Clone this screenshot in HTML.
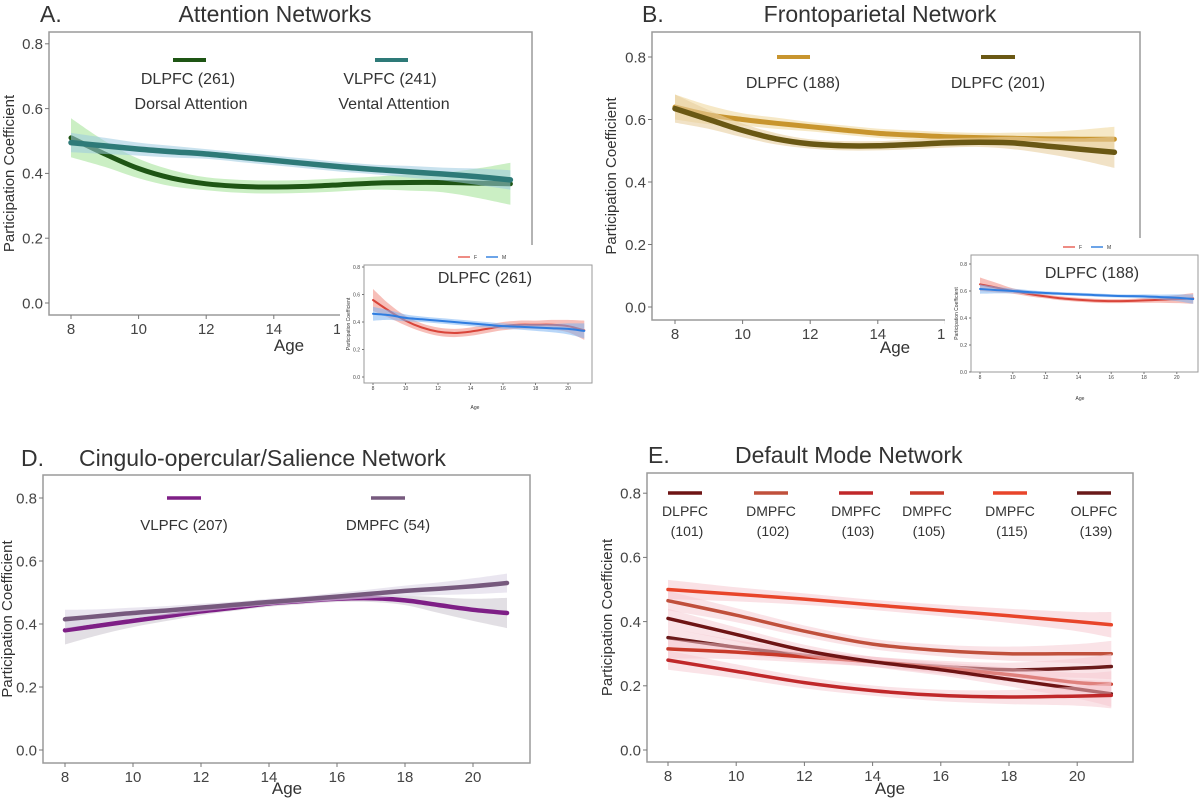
<!DOCTYPE html>
<html><head><meta charset="utf-8"><style>
html,body{margin:0;padding:0;background:#fff;}
svg{display:block;font-family:"Liberation Sans",sans-serif;}
</style></head><body>
<svg id="fig" width="1200" height="800" viewBox="0 0 1200 800"></svg>
<script>
// ---------- DATA ----------
const xTicks = [8, 10, 12, 14, 16, 18, 20];
const yTicks = [0, 0.2, 0.4, 0.6, 0.8];
const yTickLabels = ["0.0", "0.2", "0.4", "0.6", "0.8"];

// Panel A
const aAges = [8, 9, 10, 11, 12, 13, 14, 15, 16, 17, 18, 19, 20, 21];
const aDorsal = [0.51, 0.46, 0.415, 0.385, 0.368, 0.36, 0.358, 0.36, 0.365, 0.37, 0.372, 0.372, 0.37, 0.368];
const aDorsalCI = [0.06, 0.04, 0.03, 0.025, 0.02, 0.02, 0.02, 0.02, 0.02, 0.02, 0.025, 0.03, 0.045, 0.065];
const aVentral = [0.495, 0.485, 0.475, 0.467, 0.46, 0.45, 0.44, 0.43, 0.42, 0.412, 0.405, 0.398, 0.39, 0.38];
const aVentralCI = [0.03, 0.025, 0.02, 0.018, 0.015, 0.015, 0.015, 0.015, 0.015, 0.015, 0.018, 0.02, 0.025, 0.03];
// Inset A (by sex)
const aInF = [0.56, 0.48, 0.41, 0.36, 0.33, 0.32, 0.33, 0.35, 0.37, 0.38, 0.38, 0.38, 0.37, 0.34];
const aInFCI = [0.08, 0.05, 0.035, 0.03, 0.03, 0.03, 0.03, 0.03, 0.03, 0.03, 0.03, 0.035, 0.045, 0.07];
const aInM = [0.46, 0.45, 0.43, 0.42, 0.41, 0.4, 0.39, 0.38, 0.37, 0.365, 0.36, 0.355, 0.35, 0.335];
const aInMCI = [0.05, 0.035, 0.025, 0.02, 0.02, 0.02, 0.02, 0.02, 0.02, 0.02, 0.025, 0.03, 0.04, 0.055];

// Panel B
const bAges = [8, 9, 10, 11, 12, 13, 14, 15, 16, 17, 18, 19, 20, 21];
const bDL188 = [0.64, 0.615, 0.6, 0.588, 0.577, 0.566, 0.556, 0.55, 0.545, 0.542, 0.54, 0.538, 0.537, 0.537];
const bDL188CI = [0.04, 0.03, 0.02, 0.018, 0.015, 0.015, 0.015, 0.015, 0.015, 0.015, 0.018, 0.022, 0.03, 0.04];
const bDL201 = [0.635, 0.6, 0.565, 0.538, 0.522, 0.516, 0.516, 0.52, 0.525, 0.527, 0.525, 0.515, 0.505, 0.495];
const bDL201CI = [0.045, 0.03, 0.022, 0.018, 0.015, 0.015, 0.015, 0.015, 0.015, 0.015, 0.02, 0.025, 0.035, 0.05];
const bInF = [0.65, 0.625, 0.6, 0.578, 0.56, 0.545, 0.535, 0.528, 0.525, 0.526, 0.53, 0.535, 0.54, 0.545];
const bInFCI = [0.05, 0.035, 0.02, 0.018, 0.015, 0.015, 0.015, 0.015, 0.015, 0.015, 0.018, 0.022, 0.03, 0.04];
const bInM = [0.615, 0.607, 0.6, 0.592, 0.585, 0.58, 0.575, 0.57, 0.565, 0.562, 0.56, 0.555, 0.55, 0.54];
const bInMCI = [0.035, 0.025, 0.018, 0.015, 0.012, 0.012, 0.012, 0.012, 0.012, 0.012, 0.015, 0.018, 0.025, 0.035];

// Panel D
const dAges = [8, 9, 10, 11, 12, 13, 14, 15, 16, 17, 18, 19, 20, 21];
const dVL207 = [0.38, 0.395, 0.41, 0.425, 0.44, 0.452, 0.465, 0.473, 0.48, 0.482, 0.475, 0.46, 0.445, 0.435];
const dVL207CI = [0.045, 0.03, 0.02, 0.015, 0.012, 0.01, 0.01, 0.01, 0.01, 0.012, 0.015, 0.025, 0.035, 0.048];
const dDM54 = [0.415, 0.425, 0.435, 0.443, 0.452, 0.461, 0.47, 0.478, 0.487, 0.496, 0.505, 0.512, 0.52, 0.53];
const dDM54CI = [0.03, 0.022, 0.017, 0.014, 0.012, 0.01, 0.01, 0.01, 0.012, 0.014, 0.017, 0.02, 0.025, 0.03];

// Panel E
const eAges = [8, 10, 12, 14, 16, 18, 20, 21];
const eDL101 = [0.41, 0.36, 0.31, 0.275, 0.25, 0.22, 0.19, 0.175];
const eDM102 = [0.465, 0.42, 0.37, 0.33, 0.31, 0.3, 0.3, 0.3];
const eDM103 = [0.28, 0.245, 0.21, 0.185, 0.17, 0.165, 0.168, 0.17];
const eDM105 = [0.315, 0.305, 0.29, 0.275, 0.255, 0.235, 0.21, 0.205];
const eDM115 = [0.5, 0.485, 0.47, 0.452, 0.435, 0.418, 0.4, 0.39];
const eOL139 = [0.35, 0.32, 0.295, 0.275, 0.26, 0.25, 0.255, 0.26];
const eCI = [0.03, 0.022, 0.018, 0.016, 0.018, 0.022, 0.03, 0.04];

// ---------- DRAWING ----------
const NS = "http://www.w3.org/2000/svg";
const svg = document.getElementById("fig");
function mk(tag, attrs, parent) {
  const e = document.createElementNS(NS, tag);
  for (const k in attrs) e.setAttribute(k, attrs[k]);
  (parent || svg).appendChild(e);
  return e;
}
function smoothPath(pts) {
  let d = "M" + pts[0][0].toFixed(1) + "," + pts[0][1].toFixed(1);
  for (let i = 0; i < pts.length - 1; i++) {
    const p0 = pts[Math.max(0, i - 1)], p1 = pts[i], p2 = pts[i + 1], p3 = pts[Math.min(pts.length - 1, i + 2)];
    const c1x = p1[0] + (p2[0] - p0[0]) / 6, c1y = p1[1] + (p2[1] - p0[1]) / 6;
    const c2x = p2[0] - (p3[0] - p1[0]) / 6, c2y = p2[1] - (p3[1] - p1[1]) / 6;
    d += " C" + c1x.toFixed(1) + "," + c1y.toFixed(1) + " " + c2x.toFixed(1) + "," + c2y.toFixed(1) + " " + p2[0].toFixed(1) + "," + p2[1].toFixed(1);
  }
  return d;
}
function makeAxes(cfg) {
  const sx = a => cfg.x8 + (a - 8) * cfg.ppy;
  const sy = v => cfg.y0 - v * cfg.ppu;
  return { sx, sy };
}
function drawFrame(cfg, name) {
  const g = mk("g", {});
  
  
  const ax = makeAxes(cfg);
  const [l, t, r, b] = cfg.box;
  const box = mk("rect", { x: l, y: t, width: r - l, height: b - t, fill: "#fff", stroke: "#9a9a9a", "stroke-width": cfg.small ? 1 : 1.5 }, g);
  
  
  const fs = cfg.small ? 5 : 15;
  const tl = cfg.small ? 2 : 4;
  yTicks.forEach((v, i) => {
    const y = ax.sy(v);
    mk("line", { x1: l - tl, x2: l, y1: y, y2: y, stroke: "#777", "stroke-width": 1 }, g);
    const t1 = mk("text", { x: l - tl - 2, y: y + fs * 0.35, "text-anchor": "end", "font-size": fs, fill: "#444" }, g);
    t1.textContent = yTickLabels[i];
    
    
  });
  xTicks.forEach(a => {
    const x = ax.sx(a);
    mk("line", { x1: x, x2: x, y1: b, y2: b + tl, stroke: "#777", "stroke-width": 1 }, g);
    const t2 = mk("text", { x: x, y: b + tl + fs, "text-anchor": "middle", "font-size": fs, fill: "#444" }, g);
    t2.textContent = a;
    
    
  });
  const xt = mk("text", { x: cfg.ageX, y: cfg.ageY, "text-anchor": "middle", "font-size": cfg.small ? 5 : 17, fill: "#333" }, g);
  xt.textContent = "Age";
  
  
  const ym = (t + b) / 2;
  const yt = mk("text", { x: cfg.ylabX, y: ym, "text-anchor": "middle", "font-size": cfg.small ? 5 : 15, fill: "#333", transform: "rotate(-90 " + cfg.ylabX + " " + ym + ")" }, g);
  yt.textContent = "Participation Coefficient";
  
  
  return ax;
}
function drawSeries(ax, ages, vals, ci, color, band, bandOp, width, name) {
  const g = mk("g", {});
  
  
  const up = ages.map((a, i) => [ax.sx(a), ax.sy(vals[i] + ci[i])]);
  const lo = ages.map((a, i) => [ax.sx(a), ax.sy(vals[i] - ci[i])]).reverse();
  const upD = smoothPath(up);
  const loD = smoothPath(lo).replace(/^M/, "L");
  const bd = mk("path", { d: upD + " " + loD + " Z", fill: band, opacity: bandOp }, g);
  
  
  const ln = mk("path", { d: smoothPath(ages.map((a, i) => [ax.sx(a), ax.sy(vals[i])])), fill: "none", stroke: color, "stroke-width": width, "stroke-linecap": "round" }, g);
  
  
}
function text(x, y, s, fs, name, anchor, fill) {
  const t = mk("text", { x: x, y: y, "font-size": fs, fill: fill || "#333", "text-anchor": anchor || "middle" });
  t.textContent = s;
  
  
  return t;
}
function legLine(x1, x2, y, color, w, name) {
  const l = mk("line", { x1: x1, x2: x2, y1: y, y2: y, stroke: color, "stroke-width": w || 4 });
  
  
}
function whiteBox(x, y, w, h) {
  const r = mk("rect", { x: x, y: y, width: w, height: h, fill: "#fff" });
  
  
}

// ===== Panel A =====
text(40, 22, "A.", 23, "panel-a-letter", "start");
text(275, 22, "Attention Networks", 23, "panel-a-title");
const axA = drawFrame({ x8: 71, ppy: 33.8, y0: 303, ppu: 324, box: [49, 32, 532, 315], ageX: 289, ageY: 351, ylabX: 14 }, "panel-a-chart");
drawSeries(axA, aAges, aDorsal, aDorsalCI, "#1e5514", "#a8e49c", 0.6, 5, "dorsal-attention-series");
drawSeries(axA, aAges, aVentral, aVentralCI, "#2e7a78", "#9ccbe0", 0.55, 5.5, "ventral-attention-series");
legLine(173, 206, 60, "#1e5514", 4, "legend-dlpfc-261-swatch");
legLine(375, 408, 60, "#2e7a78", 4, "legend-vlpfc-241-swatch");
text(188, 84, "DLPFC (261)", 16, "legend-dlpfc-261-label");
text(191, 109, "Dorsal Attention", 16, "legend-dorsal-attention-label");
text(390, 84, "VLPFC (241)", 16, "legend-vlpfc-241-label");
text(394, 109, "Vental Attention", 16, "legend-ventral-attention-label");
// inset A
whiteBox(340, 245, 260, 170);
legLine(458, 470, 257, "#e8665a", 1.5, "inset-a-legend-f-swatch");
text(474, 259, "F", 5, "inset-a-legend-f", "start");
legLine(486, 498, 257, "#3a86e0", 1.5, "inset-a-legend-m-swatch");
text(502, 259, "M", 5, "inset-a-legend-m", "start");
const axAi = drawFrame({ x8: 373, ppy: 16.25, y0: 377, ppu: 137.5, box: [364, 265, 592, 383], ageX: 475, ageY: 409, ylabX: 350, small: true }, "inset-a-chart");
drawSeries(axAi, aAges, aInF, aInFCI, "#d9453a", "#f08a80", 0.55, 2, "inset-a-female-series");
drawSeries(axAi, aAges, aInM, aInMCI, "#2f7de0", "#7db4f2", 0.55, 2, "inset-a-male-series");
text(485, 283, "DLPFC (261)", 16, "inset-a-title");

// ===== Panel B =====
text(642, 22, "B.", 23, "panel-b-letter", "start");
text(880, 22, "Frontoparietal Network", 23, "panel-b-title");
const axB = drawFrame({ x8: 675, ppy: 33.8, y0: 307, ppu: 312.5, box: [652, 32, 1140, 320], ageX: 895, ageY: 353, ylabX: 616 }, "panel-b-chart");
drawSeries(axB, bAges, bDL188, bDL188CI, "#c8952e", "#f0d8a0", 0.6, 5, "dlpfc-188-series");
drawSeries(axB, bAges, bDL201, bDL201CI, "#6a5814", "#e8cfa0", 0.6, 5.5, "dlpfc-201-series");
legLine(777, 810, 57, "#c8952e", 4, "legend-dlpfc-188-swatch");
legLine(981, 1015, 57, "#6a5814", 4, "legend-dlpfc-201-swatch");
text(793, 88, "DLPFC (188)", 16, "legend-dlpfc-188-label");
text(998, 88, "DLPFC (201)", 16, "legend-dlpfc-201-label");
// inset B
whiteBox(945, 238, 255, 170);
legLine(1063, 1075, 247, "#e8665a", 1.5, "inset-b-legend-f-swatch");
text(1079, 249, "F", 5, "inset-b-legend-f", "start");
legLine(1091, 1103, 247, "#3a86e0", 1.5, "inset-b-legend-m-swatch");
text(1107, 249, "M", 5, "inset-b-legend-m", "start");
const axBi = drawFrame({ x8: 980, ppy: 16.4, y0: 372, ppu: 135, box: [971, 255, 1198, 372], ageX: 1080, ageY: 400, ylabX: 958, small: true }, "inset-b-chart");
drawSeries(axBi, bAges, bInF, bInFCI, "#d9453a", "#f08a80", 0.55, 2, "inset-b-female-series");
drawSeries(axBi, bAges, bInM, bInMCI, "#2f7de0", "#7db4f2", 0.55, 2, "inset-b-male-series");
text(1092, 278, "DLPFC (188)", 16, "inset-b-title");

// ===== Panel D =====
text(21, 466, "D.", 23, "panel-d-letter", "start");
text(79, 466, "Cingulo-opercular/Salience Network", 23, "panel-d-title", "start");
const axD = drawFrame({ x8: 65, ppy: 34, y0: 750, ppu: 315, box: [43, 475, 530, 763], ageX: 287, ageY: 794, ylabX: 12 }, "panel-d-chart");
drawSeries(axD, dAges, dVL207, dVL207CI, "#7e1f86", "#d6d2d8", 0.7, 4.5, "vlpfc-207-series");
drawSeries(axD, dAges, dDM54, dDM54CI, "#775a7e", "#dcd6e6", 0.6, 4.5, "dmpfc-54-series");
legLine(167, 201, 498, "#7e1f86", 3.5, "legend-vlpfc-207-swatch");
legLine(371, 405, 498, "#775a7e", 3.5, "legend-dmpfc-54-swatch");
text(184, 530, "VLPFC (207)", 15, "legend-vlpfc-207-label");
text(388, 530, "DMPFC (54)", 15, "legend-dmpfc-54-label");

// ===== Panel E =====
text(648, 463, "E.", 23, "panel-e-letter", "start");
text(735, 463, "Default Mode Network", 23, "panel-e-title", "start");
const axE = drawFrame({ x8: 668, ppy: 34.1, y0: 750, ppu: 321, box: [647, 473, 1133, 762], ageX: 890, ageY: 794, ylabX: 612 }, "panel-e-chart");
drawSeries(axE, eAges, eDM115, eCI, "#e8452a", "#f6c8d0", 0.55, 3.5, "dmpfc-115-series");
drawSeries(axE, eAges, eDM102, eCI, "#c0503c", "#f6c8d0", 0.5, 3.5, "dmpfc-102-series");
drawSeries(axE, eAges, eOL139, eCI, "#6a1a1a", "#f6c8d0", 0.5, 3.5, "olpfc-139-series");
drawSeries(axE, eAges, eDM105, eCI, "#c83a2a", "#f6c8d0", 0.5, 3.5, "dmpfc-105-series");
drawSeries(axE, eAges, eDL101, eCI, "#6e1414", "#f6c8d0", 0.5, 3.5, "dlpfc-101-series");
drawSeries(axE, eAges, eDM103, eCI, "#c0282a", "#f6c8d0", 0.5, 3.5, "dmpfc-103-series");
const eLegX = [685, 771, 856, 927, 1010, 1094];
const eLegCol = ["#6e1414", "#c0503c", "#c0282a", "#c83a2a", "#e8452a", "#6a1a1a"];
const eLegName = ["DLPFC", "DMPFC", "DMPFC", "DMPFC", "DMPFC", "OLPFC"];
const eLegN = ["(101)", "(102)", "(103)", "(105)", "(115)", "(139)"];
eLegX.forEach((x, i) => {
  legLine(x - 17, x + 17, 493, eLegCol[i], 3.5, "legend-e-swatch-" + i);
  text(x, 516, eLegName[i], 14, "legend-e-label-" + i);
  text(x + 2, 536, eLegN[i], 14, "legend-e-count-" + i);
});
</script>
</body></html>
